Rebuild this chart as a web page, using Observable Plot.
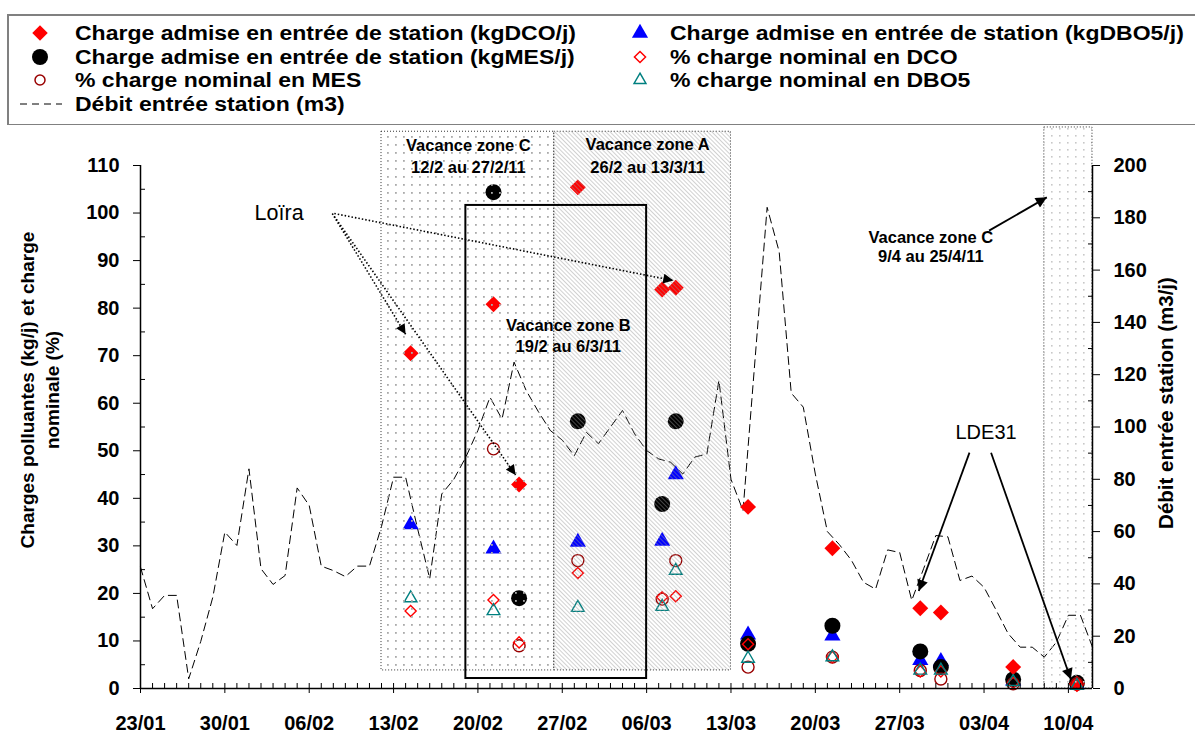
<!DOCTYPE html>
<html><head><meta charset="utf-8">
<script src="https://cdn.jsdelivr.net/npm/d3@7"></script>
<script src="https://cdn.jsdelivr.net/npm/@observablehq/plot@0.6"></script>
<style>
body{margin:0;background:#fff;font-family:"Liberation Sans",Arial,sans-serif;}
#wrap{position:relative;width:1195px;height:735px;overflow:hidden;background:#fff;}
#legend{position:absolute;left:0;top:0;}
#chart{position:absolute;left:0;top:125px;}
</style></head>
<body><div id="wrap"><svg id="legend" width="1195" height="125"></svg><div id="chart"></div></div>
<script>
// ---------- DATA ----------
const debitStart = "2011-01-23";
// Débit entrée station (m3/j), one value per day from 23/01
const debitValues = [46.4,30.5,35.6,35.6,3.7,18,34.9,59.8,54.7,84,45.8,39.8,43.2,76.7,70,46.8,45.1,42.8,46.8,46.8,
  62,80.8,80.8,61,42,74.4,80,88.5,98.7,111.4,103,124.8,114,106,98.7,95,89,98,93.6,100,
  106.3,97.4,91,87.8,86.5,82,88.5,89.7,117.8,80,68,126,184,167,113,107.6,82,60,55,49,
  40.6,38,53,52,33.7,46,58.5,58,41.3,43,38.7,30,21,15.8,15.8,12,17.7,28,28,15.8];
const sampleDates = ["2011-02-14T10:00","2011-02-21T07:00","2011-02-23T10:00","2011-02-28T07:00","2011-03-07T07:00","2011-03-08T10:00",
  "2011-03-14T10:00","2011-03-21T10:00","2011-03-28T17:00","2011-03-30T10:00","2011-04-05T10:00","2011-04-10T17:00"];
const dcoKg  = [70.5,80.8,42.9,105.4,83.9,84.3,38.2,29.5,16.9,16.0,4.5,1.0];
const mesKg  = [null,104.4,19.0,56.2,38.8,56.2,9.4,13.2,7.8,4.5,1.9,1.2];
const dbo5Kg = [34.5,29.4,null,30.8,31.0,45.0,11.3,11.1,5.9,5.7,1.6,0.8];
const pctMes = [null,50.4,9.0,26.9,18.8,26.9,4.5,6.6,3.8,2.0,1.0,1.0];
const pctDco = [16.3,18.6,9.7,24.3,19.2,19.4,9.3,6.6,3.6,3.6,1.2,0.6];
const pctDbo5= [19.0,16.3,null,17.0,17.2,24.8,6.3,6.6,3.8,3.8,1.4,0.6];

const xTickLabels = ["23/01","30/01","06/02","13/02","20/02","27/02","06/03","13/03","20/03","27/03","03/04","10/04"];
const leftTicks = [0,10,20,30,40,50,60,70,80,90,100,110];
const rightTicks = [0,20,40,60,80,100,120,140,160,180,200];

// vacation periods (start, end, low, high in left-axis units)
const zoneNames = ["C1","A","B","C2"];
const zoneStart = ["2011-02-12","2011-02-26T08:00","2011-02-19","2011-04-08"];
const zoneEnd   = ["2011-02-26T08:00","2011-03-13","2011-03-06","2011-04-12"];
const zoneLow   = [3.8,3.8,2.1,0];
const zoneHigh  = [117.1,117.1,101.6,118];

// annotation texts
const noteText = ["Vacance zone C","12/2 au 27/2/11","Vacance zone A","26/2 au 13/3/11","Vacance zone B","19/2 au 6/3/11","Vacance zone C","9/4 au 25/4/11"];
const noteDate = ["2011-02-19T05:00","2011-02-19T05:00","2011-03-06T02:00","2011-03-06T02:00","2011-02-27T12:00","2011-02-27T12:00","2011-03-29T14:00","2011-03-29T14:00"];
const noteVal  = [114.2,109.6,114.4,109.6,76.3,71.8,94.9,90.8];
const loiraLabel = {date:"2011-02-03T12:00", v:99.9, text:"Loïra"};
const ldeLabel = {date:"2011-04-03T04:00", v:53.8, text:"LDE31"};
const loiraArrows = [ // from -> to
  {d1:"2011-02-07T22:00", v1:99.9, d2:"2011-02-14T00:00", v2:74.5},
  {d1:"2011-02-08T02:00", v1:99.3, d2:"2011-02-23T03:00", v2:44.9},
  {d1:"2011-02-08T02:00", v1:99.9, d2:"2011-03-08T05:00", v2:85.8}];
const ldeArrows = [
  {d1:"2011-04-01T19:00", v1:49.6, d2:"2011-03-28T14:00", v2:20.5},
  {d1:"2011-04-03T14:00", v1:49.6, d2:"2011-04-10T05:00", v2:1.9}];
const zoneCArrow = [{d1:"2011-04-03T10:00", v1:96.3, d2:"2011-04-08T05:00", v2:103.3}];

// ---------- BUILD ----------
const P = s => new Date(s.length === 10 ? s + "T00:00Z" : s + "Z");
const k = 110 / 200; // right axis -> left axis units
const debitData = debitValues.map((v, i) => ({date: d3.utcDay.offset(P(debitStart), i), v: v * k}));
const pts = arr => sampleDates.map((d, i) => ({date: P(d), v: arr[i]})).filter(d => d.v != null);
const zones = zoneNames.map((n, i) => ({name: n, x1: P(zoneStart[i]), x2: P(zoneEnd[i]), y1: zoneLow[i], y2: zoneHigh[i]}));
const notes = noteText.map((t, i) => ({text: t, date: P(noteDate[i]), v: noteVal[i]}));
const arr = a => a.map(o => ({x1: P(o.d1), y1: o.v1, x2: P(o.d2), y2: o.v2}));
const xDomain = [P("2011-01-23"), P("2011-04-12")];
const dayTicks = d3.utcDay.range(xDomain[0], d3.utcDay.offset(xDomain[1], 1));
const weekTicks = xTickLabels.map((l, i) => d3.utcDay.offset(xDomain[0], 7 * i));

const FONT = "Liberation Sans, Arial, sans-serif";
const TICKFS = 20;
const plot = Plot.plot({
  width: 1195, height: 610,
  marginLeft: 140, marginRight: 103, marginTop: 40, marginBottom: 47,
  x: {type: "utc", domain: xDomain},
  y: {domain: [0, 110]},
  style: {fontFamily: FONT, fontWeight: "bold", fontSize: "18px", color: "#000", background: "transparent", overflow: "visible"},
  marks: [
    Plot.line(debitData, {x: "date", y: "v", stroke: "#000", strokeWidth: 1, strokeDasharray: "8,5"}),
    Plot.dot(pts(dbo5Kg), {x: "date", y: "v", symbol: "triangle", r: 6, fill: "#0000ff"}),
    Plot.dot(pts(mesKg), {x: "date", y: "v", symbol: "circle", r: 8, fill: "#000"}),
    Plot.dot(pts(dcoKg), {x: "date", y: "v", symbol: "diamond2", r: 7.2, fill: "#ff0000"}),
    Plot.dot(pts(pctMes), {x: "date", y: "v", symbol: "circle", r: 6, fill: "none", stroke: "#990000", strokeWidth: 1.4}),
    Plot.dot(pts(pctDco), {x: "date", y: "v", symbol: "diamond2", r: 5, fill: "none", stroke: "#ff0000", strokeWidth: 1.4}),
    Plot.dot(pts(pctDbo5), {x: "date", y: "v", symbol: "triangle", r: 4.7, fill: "none", stroke: "#008080", strokeWidth: 1.4}),
    // vacation zones (patterned, drawn over the points)
    Plot.rect(zones.filter(z => z.name === "C1"), {x1: "x1", x2: "x2", y1: "y1", y2: "y2", fill: "url(#dotsC)", stroke: "#333", strokeWidth: 1, strokeDasharray: "1,2"}),
    Plot.rect(zones.filter(z => z.name === "A"), {x1: "x1", x2: "x2", y1: "y1", y2: "y2", fill: "url(#hatchA)", stroke: "#333", strokeWidth: 1, strokeDasharray: "1,2"}),
    Plot.rect(zones.filter(z => z.name === "C2"), {x1: "x1", x2: "x2", y1: "y1", y2: "y2", fill: "url(#dotsC2)", stroke: "#333", strokeWidth: 1, strokeDasharray: "1,2"}),
    Plot.rect(zones.filter(z => z.name === "B"), {x1: "x1", x2: "x2", y1: "y1", y2: "y2", fill: "none", stroke: "#000", strokeWidth: 2}),
    // axes
    Plot.ruleY([0], {stroke: "#000", strokeWidth: 1.5}),
    Plot.ruleX([xDomain[0], xDomain[1]], {y1: 0, y2: 110, stroke: "#000", strokeWidth: 1.5}),
    Plot.axisX({ticks: dayTicks, tickSize: -5, tickFormat: () => "", strokeWidth: 1}),
    Plot.axisX({ticks: weekTicks, tickSize: 5, tickFormat: d3.utcFormat("%d/%m"), tickPadding: 22, fontSize: TICKFS, fontWeight: "bold"}),
    Plot.axisY({ticks: leftTicks, tickSize: 7, tickPadding: 14, fontSize: TICKFS, fontWeight: "bold"}),
    Plot.axisY({ticks: leftTicks.slice(0, -1).map(d => d + 5), tickSize: -5, tickFormat: () => ""}),
    Plot.axisY({anchor: "right", ticks: rightTicks.map(d => d * k), tickFormat: d => Math.round(d / k), tickSize: 7, tickPadding: 14, fontSize: TICKFS, fontWeight: "bold"}),
    Plot.axisY({anchor: "right", ticks: rightTicks.slice(0, -1).map(d => (d + 10) * k), tickSize: -5, tickFormat: () => ""}),
    // annotations
    Plot.text(notes, {x: "date", y: "v", text: "text", fontSize: 16.5, fontWeight: "bold", fill: "#000"}),
    Plot.text([loiraLabel], {x: d => P(d.date), y: "v", text: "text", fontSize: 21.5, fontWeight: "normal", fill: "#000"}),
    Plot.text([ldeLabel], {x: d => P(d.date), y: "v", text: "text", fontSize: 20, fontWeight: "normal", fill: "#000"}),
    Plot.link(arr(loiraArrows), {x1: "x1", y1: "y1", x2: "x2", y2: "y2", stroke: "#000", strokeWidth: 1.6, strokeDasharray: "1.5,2", className: "loira"}),
    Plot.link(arr(ldeArrows), {x1: "x1", y1: "y1", x2: "x2", y2: "y2", stroke: "#000", strokeWidth: 1.8, className: "lde"}),
    Plot.link(arr(zoneCArrow), {x1: "x1", y1: "y1", x2: "x2", y2: "y2", stroke: "#000", strokeWidth: 1.8, className: "lde"})
  ]
});
document.getElementById("chart").appendChild(plot);

// patterns and arrowheads
const svg = d3.select(plot);
const defs = svg.insert("defs", ":first-child");
const pd = defs.append("pattern").attr("id", "dotsC").attr("width", 8).attr("height", 8).attr("patternUnits", "userSpaceOnUse");
pd.append("rect").attr("x", 3).attr("y", 3).attr("width", 1.8).attr("height", 1.8).attr("fill", "#aaa");
const pd2 = defs.append("pattern").attr("id", "dotsC2").attr("width", 8).attr("height", 7).attr("patternUnits", "userSpaceOnUse");
pd2.append("rect").attr("x", 3).attr("y", 3).attr("width", 1.6).attr("height", 1.6).attr("fill", "#c8c8c8");
const ph = defs.append("pattern").attr("id", "hatchA").attr("width", 3).attr("height", 3).attr("patternUnits", "userSpaceOnUse").attr("patternTransform", "rotate(-45)");
ph.append("line").attr("x1", 0).attr("y1", -1).attr("x2", 0).attr("y2", 4).attr("stroke", "#999").attr("stroke-width", 0.9);
defs.append("marker").attr("id", "ahL").attr("viewBox", "0 0 10 10").attr("refX", 10).attr("refY", 5)
  .attr("markerWidth", 12).attr("markerHeight", 10).attr("markerUnits", "userSpaceOnUse").attr("orient", "auto")
  .append("path").attr("d", "M0,0L10,5L0,10z").attr("fill", "#000");
defs.append("marker").attr("id", "ahS").attr("viewBox", "0 0 10 10").attr("refX", 10).attr("refY", 5)
  .attr("markerWidth", 15).attr("markerHeight", 11).attr("markerUnits", "userSpaceOnUse").attr("orient", "auto")
  .append("path").attr("d", "M0,0L10,5L0,10z").attr("fill", "#000");
svg.selectAll(".loira path").attr("marker-end", "url(#ahL)").attr("stroke-dasharray", "1.5,2");
svg.selectAll(".lde path").attr("marker-end", "url(#ahS)");

// axis titles
const t1 = svg.append("g").attr("font-family", FONT).attr("font-weight", "bold").attr("text-anchor", "middle");
t1.append("text").attr("font-size", 19).attr("transform", "translate(34,265) rotate(-90)").text("Charges polluantes (kg/j) et charge");
t1.append("text").attr("font-size", 19).attr("transform", "translate(59,265) rotate(-90)").text("nominale (%)");
t1.append("text").attr("font-size", 20.5).attr("transform", "translate(1173,278) rotate(-90)").text("Débit entrée station (m3/j)");

// legend
const lg = d3.select("#legend");
lg.append("rect").attr("x", 8).attr("y", 15).attr("width", 1200).attr("height", 110).attr("fill", "none").attr("stroke", "#808080").attr("stroke-width", 2);
const items = [
  {x: 40, y: 33, sym: "diamond2", r: 7, fill: "#ff0000", stroke: "none", text: "Charge admise en entrée de station (kgDCO/j)"},
  {x: 40, y: 57, sym: "circle", r: 8, fill: "#000", stroke: "none", text: "Charge admise en entrée de station (kgMES/j)"},
  {x: 40, y: 80, sym: "circle", r: 5, fill: "none", stroke: "#990000", text: "% charge nominal en MES"},
  {x: 40, y: 104, sym: "line", text: "Débit entrée station (m3)"},
  {x: 640, y: 33, sym: "triangle", r: 6, fill: "#0000ff", stroke: "none", text: "Charge admise en entrée de station (kgDBO5/j)"},
  {x: 640, y: 57, sym: "diamond2", r: 5, fill: "none", stroke: "#ff0000", text: "% charge nominal en DCO"},
  {x: 640, y: 80, sym: "triangle", r: 4.4, fill: "none", stroke: "#008080", text: "% charge nominal en DBO5"}];
const symMap = {diamond2: d3.symbolDiamond2, circle: d3.symbolCircle, triangle: d3.symbolTriangle};
const LEGFS = 19.5, LEGSTRETCH = 23 / 19.5;
for (const it of items) {
  if (it.sym === "line") {
    lg.append("line").attr("x1", 20).attr("x2", 62).attr("y1", it.y).attr("y2", it.y).attr("stroke", "#000").attr("stroke-dasharray", "7,5");
  } else {
    lg.append("path").attr("transform", `translate(${it.x},${it.y})`).attr("d", d3.symbol(symMap[it.sym], Math.PI * it.r * it.r)())
      .attr("fill", it.fill).attr("stroke", it.stroke).attr("stroke-width", 1.5);
  }
  const t = lg.append("text").attr("x", it.x < 100 ? 75 : 670).attr("y", it.y + 7).attr("font-family", FONT).attr("font-weight", "bold").attr("font-size", LEGFS).text(it.text);
  const len = t.node().getComputedTextLength();
  if (len > 0) t.attr("textLength", len * LEGSTRETCH).attr("lengthAdjust", "spacingAndGlyphs");
}
</script></body></html>
